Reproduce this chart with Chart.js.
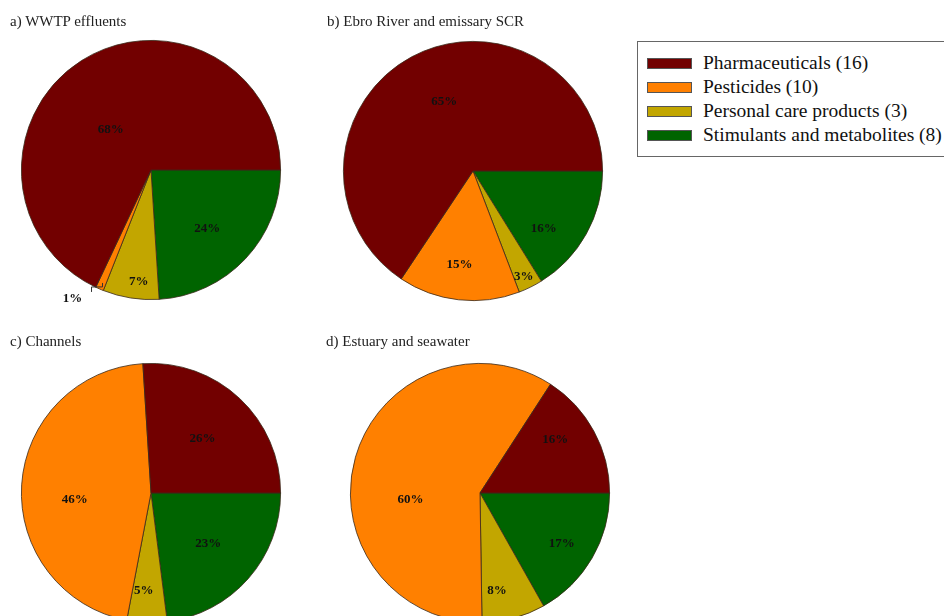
<!DOCTYPE html>
<html>
<head>
<meta charset="utf-8">
<script src="https://cdn.jsdelivr.net/npm/chart.js@4.4.0/dist/chart.umd.min.js"></script>
<style>
  body { margin:0; width:944px; height:616px; overflow:hidden; background:#fff; position:relative;
         font-family:'Liberation Serif','Times New Roman',serif; }
  .title { position:absolute; font-size:15px; line-height:15px; color:#222; white-space:nowrap; z-index:2; }
  canvas.pie { position:absolute; }
  #legend { position:absolute; left:637px; top:41px; width:330px; height:116px; border:1px solid #666;
            box-sizing:border-box; padding-top:9px; }
  .row { height:24px; display:flex; align-items:center; font-size:19.5px; color:#111; white-space:nowrap; }
  .sw { width:45px; height:11px; margin-left:9px; margin-right:11px; border:1px solid #555; box-sizing:border-box; }
</style>
</head>
<body>
<div class="title" style="left:10px;top:14px">a) WWTP effluents</div>
<div class="title" style="left:327px;top:14px">b) Ebro River and emissary SCR</div>
<div class="title" style="left:10px;top:334px">c) Channels</div>
<div class="title" style="left:326px;top:334px">d) Estuary and seawater</div>

<canvas class="pie" id="pieA" width="300" height="300" style="left:1px;top:20px"></canvas>
<canvas class="pie" id="pieB" width="300" height="300" style="left:323px;top:21px"></canvas>
<canvas class="pie" id="pieC" width="300" height="300" style="left:1px;top:343px"></canvas>
<canvas class="pie" id="pieD" width="300" height="300" style="left:330px;top:343px"></canvas>

<div id="legend"></div>

<script>
const categories = ['Pharmaceuticals', 'Pesticides', 'Personal care products', 'Stimulants and metabolites'];
const compoundCounts = [16, 10, 3, 8];
const colors = ['#720000', '#ff8000', '#c2a600', '#006400'];

// percentage of each group per sampling site
const wwtpEffluents = [68, 1, 7, 24];
const ebroRiver = [65, 15, 3, 16];
const channels = [26, 46, 5, 23];
const estuary = [16, 60, 8, 17];

// small hand adjustments of the percent labels (px), same order as categories
const labelNudge = {
  pieA: [[-2, 20], [0, 0], [4, 9], [-6, 0]],
  pieB: [[5, -7], [-4, 9], [0, 3], [-4, 16]],
  pieC: [[-7, 8], [-5, 11], [-4, -6], [-7, -6]],
  pieD: [[0, -13], [-1, 26], [-10, -2], [8, 7]]
};

// legend box
const legend = document.getElementById('legend');
categories.forEach((c, i) => {
  const row = document.createElement('div');
  row.className = 'row';
  row.innerHTML = '<span class="sw" style="background:' + colors[i] + '"></span>' + c + ' (' + compoundCounts[i] + ')';
  legend.appendChild(row);
});

// percent labels inside the slices, tiny slices get a leader outside
const pctLabels = {
  id: 'pctLabels',
  afterDatasetsDraw(chart, args, opts) {
    const ctx = chart.ctx;
    const meta = chart.getDatasetMeta(0);
    const vals = chart.data.datasets[0].data;
    const nudge = opts.nudge || [];
    ctx.save();
    ctx.font = 'bold 13px "Liberation Serif"';
    ctx.fillStyle = '#111';
    ctx.textAlign = 'center';
    ctx.textBaseline = 'middle';
    meta.data.forEach((arc, i) => {
      const v = vals[i];
      const p = arc.getProps(['x', 'y', 'startAngle', 'endAngle', 'outerRadius'], true);
      const mid = (p.startAngle + p.endAngle) / 2;
      const dx = Math.cos(mid), dy = Math.sin(mid);
      if (v < 2) {
        const ex = p.x + dx * p.outerRadius, ey = p.y + dy * p.outerRadius;
        ctx.strokeStyle = '#333';
        ctx.lineWidth = 1;
        ctx.beginPath();
        ctx.moveTo(ex + 3, ey - 6);
        ctx.lineTo(ex + 3, ey - 2);
        ctx.lineTo(ex - 8, ey - 2);
        ctx.lineTo(ex - 8, ey + 3);
        ctx.stroke();
        ctx.fillText(v + '%', ex - 27, ey + 10);
        return;
      }
      const f = v < 5 ? 0.88 : v < 10 ? 0.8 : v < 40 ? 0.66 : 0.55;
      const n = nudge[i] || [0, 0];
      ctx.fillText(v + '%', p.x + dx * p.outerRadius * f + n[0], p.y + dy * p.outerRadius * f + n[1]);
    });
    ctx.restore();
  }
};

// slices run counter-clockwise from 3 o'clock, so feed them reversed
function pieChart(id, values) {
  new Chart(document.getElementById(id), {
    type: 'pie',
    data: {
      labels: categories.slice().reverse(),
      datasets: [{
        data: values.slice().reverse(),
        backgroundColor: colors.slice().reverse(),
        borderColor: '#3a2a1a',
        borderWidth: 0.8
      }]
    },
    options: {
      responsive: false,
      animation: false,
      rotation: 90,
      layout: { padding: 20 },
      plugins: {
        legend: { display: false },
        tooltip: { enabled: false },
        pctLabels: { nudge: labelNudge[id].slice().reverse() }
      }
    },
    plugins: [pctLabels]
  });
}

pieChart('pieA', wwtpEffluents);
pieChart('pieB', ebroRiver);
pieChart('pieC', channels);
pieChart('pieD', estuary);
</script>
</body>
</html>
